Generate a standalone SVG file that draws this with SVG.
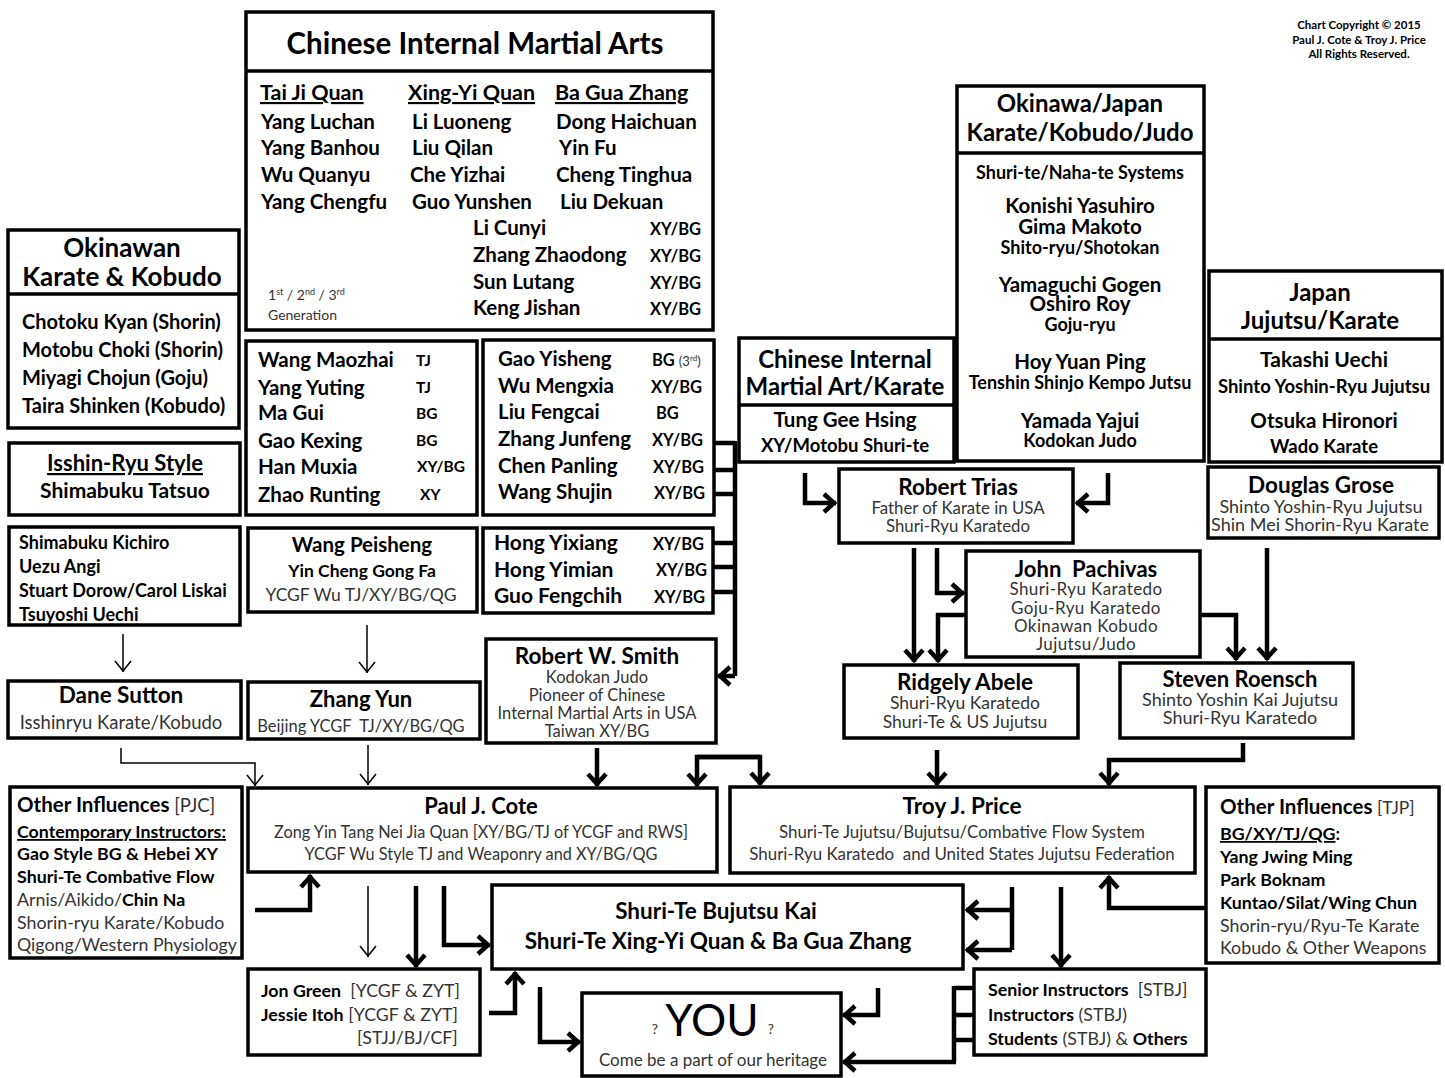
<svg xmlns="http://www.w3.org/2000/svg" width="1445" height="1078" viewBox="0 0 1445 1078">
<defs>
<style>
text{font-family:Lato,'Liberation Sans',sans-serif;fill:#000}
.b{font-weight:700}
.g{fill:#333}
.c{text-anchor:middle}
.u{text-decoration:underline}
.bx{fill:#fff;stroke:#000;stroke-width:3.5}
.dv{stroke:#000;stroke-width:3.5}
.tn{fill:none;stroke:#000;stroke-width:1.5;marker-end:url(#ma)}
.tk{fill:none;stroke:#000;stroke-width:4.5;marker-end:url(#mb)}
.tick{fill:none;stroke:#000;stroke-width:4.5}
</style>
<marker id="ma" markerUnits="userSpaceOnUse" viewBox="-13 -10 15 20" markerWidth="15" markerHeight="20" refX="0" refY="0" orient="auto"><path d="M-11,-8 L-1,0 L-11,8" fill="none" stroke="#000" stroke-width="1.5"/></marker>
<marker id="mb" markerUnits="userSpaceOnUse" viewBox="-15 -12 18 24" markerWidth="18" markerHeight="24" refX="0" refY="0" orient="auto"><path d="M-12,-9 L-2,0 L-12,9" fill="none" stroke="#000" stroke-width="4.5"/></marker>
</defs>
<rect x="0" y="0" width="1445" height="1078" fill="#fff"/>

<g id="copyright">
<text x="1359" y="29" class="c b" font-size="11.5">Chart Copyright © 2015</text>
<text x="1359" y="44" class="c b" font-size="11.5">Paul J. Cote &amp; Troy J. Price</text>
<text x="1359" y="58" class="c b" font-size="11.5">All Rights Reserved.</text>
</g>

<g id="chinese-internal-martial-arts">
<rect class="bx" x="246" y="12" width="467" height="318"/>
<line class="dv" x1="246" y1="71" x2="713" y2="71"/>
<text x="475" y="54" class="c b" font-size="29.5">Chinese Internal Martial Arts</text>
<g font-size="21.5">
<text x="260" y="100" class="b u">Tai Ji Quan</text>
<text x="408" y="100" class="b u">Xing-Yi Quan</text>
<text x="555" y="100" class="b u">Ba Gua Zhang</text>
</g>
<g font-size="20.5">
<text x="261" y="129" class="b">Yang Luchan</text>
<text x="261" y="155" class="b">Yang Banhou</text>
<text x="261" y="182" class="b">Wu Quanyu</text>
<text x="261" y="209" class="b">Yang Chengfu</text>
<text x="412" y="129" class="b">Li Luoneng</text>
<text x="412" y="155" class="b">Liu Qilan</text>
<text x="410" y="182" class="b">Che Yizhai</text>
<text x="412" y="209" class="b">Guo Yunshen</text>
<text x="556" y="129" class="b">Dong Haichuan</text>
<text x="559" y="155" class="b">Yin Fu</text>
<text x="556" y="182" class="b">Cheng Tinghua</text>
<text x="560" y="209" class="b">Liu Dekuan</text>
<text x="473" y="235" class="b">Li Cunyi</text>
<text x="473" y="262" class="b">Zhang Zhaodong</text>
<text x="473" y="289" class="b">Sun Lutang</text>
<text x="473" y="315" class="b">Keng Jishan</text>
</g>
<g font-size="16.5">
<text x="650" y="235" class="b">XY/BG</text>
<text x="650" y="262" class="b">XY/BG</text>
<text x="650" y="289" class="b">XY/BG</text>
<text x="650" y="315" class="b">XY/BG</text>
</g>
<text x="268" y="300" font-size="14" class="g">1<tspan font-size="9" dy="-5">st</tspan><tspan dy="5"> / 2</tspan><tspan font-size="9" dy="-5">nd</tspan><tspan dy="5"> / 3</tspan><tspan font-size="9" dy="-5">rd</tspan></text>
<text x="268" y="320" font-size="14" class="g">Generation</text>
</g>

<g id="okinawan-karate-kobudo">
<rect class="bx" x="8" y="230" width="231" height="198"/>
<line class="dv" x1="8" y1="294" x2="239" y2="294"/>
<text x="122" y="257" class="c b" font-size="26">Okinawan</text>
<text x="122" y="286" class="c b" font-size="26">Karate &amp; Kobudo</text>
<text x="22" y="329" class="b" font-size="20">Chotoku Kyan (Shorin)</text>
<text x="22" y="357" class="b" font-size="20">Motobu Choki (Shorin)</text>
<text x="22" y="385" class="b" font-size="20">Miyagi Chojun (Goju)</text>
<text x="22" y="413" class="b" font-size="20">Taira Shinken (Kobudo)</text>
</g>

<g id="isshin-ryu">
<rect class="bx" x="9" y="443" width="231" height="72"/>
<text x="125" y="471" class="c b u" font-size="22">Isshin-Ryu Style</text>
<text x="125" y="498" class="c b" font-size="21">Shimabuku Tatsuo</text>
</g>

<g id="shimabuku-kichiro">
<rect class="bx" x="9" y="527" width="231" height="98"/>
<text x="19" y="549" class="b" font-size="18">Shimabuku Kichiro</text>
<text x="19" y="573" class="b" font-size="18">Uezu Angi</text>
<text x="19" y="597" class="b" font-size="18">Stuart Dorow/Carol Liskai</text>
<text x="19" y="621" class="b" font-size="18">Tsuyoshi Uechi</text>
</g>

<g id="wang-maozhai">
<rect class="bx" x="246" y="341" width="231" height="174"/>
<g font-size="20.5">
<text x="258" y="367" class="b">Wang Maozhai</text>
<text x="258" y="395" class="b">Yang Yuting</text>
<text x="258" y="420" class="b">Ma Gui</text>
<text x="258" y="448" class="b">Gao Kexing</text>
<text x="258" y="474" class="b">Han Muxia</text>
<text x="258" y="502" class="b">Zhao Runting</text>
</g>
<g font-size="15.5">
<text x="416" y="366" class="b">TJ</text>
<text x="416" y="393" class="b">TJ</text>
<text x="416" y="419" class="b">BG</text>
<text x="416" y="446" class="b">BG</text>
<text x="417" y="472" class="b">XY/BG</text>
<text x="420" y="500" class="b">XY</text>
</g>
</g>

<g id="wang-peisheng">
<rect class="bx" x="248" y="528" width="229" height="84"/>
<text x="362" y="552" class="c b" font-size="20.5">Wang Peisheng</text>
<text x="362" y="577" class="c b" font-size="17.5">Yin Cheng Gong Fa</text>
<text x="361" y="601" class="c g" font-size="17.5">YCGF Wu TJ/XY/BG/QG</text>
</g>

<g id="gao-yisheng">
<rect class="bx" x="483" y="340" width="231" height="175"/>
<g font-size="20.5">
<text x="498" y="366" class="b">Gao Yisheng</text>
<text x="498" y="393" class="b">Wu Mengxia</text>
<text x="498" y="419" class="b">Liu Fengcai</text>
<text x="498" y="446" class="b">Zhang Junfeng</text>
<text x="498" y="473" class="b">Chen Panling</text>
<text x="498" y="499" class="b">Wang Shujin</text>
</g>
<g font-size="16.5">
<text x="652" y="366" class="b">BG <tspan font-weight="400" class="g" font-size="13">(3<tspan font-size="8" dy="-5">rd</tspan><tspan dy="5">)</tspan></tspan></text>
<text x="651" y="393" class="b">XY/BG</text>
<text x="656" y="419" class="b">BG</text>
<text x="652" y="446" class="b">XY/BG</text>
<text x="653" y="473" class="b">XY/BG</text>
<text x="654" y="499" class="b">XY/BG</text>
</g>
</g>

<g id="hong-yixiang">
<rect class="bx" x="483" y="528" width="230" height="85"/>
<g font-size="21">
<text x="494" y="550" class="b">Hong Yixiang</text>
<text x="494" y="577" class="b">Hong Yimian</text>
<text x="494" y="603" class="b">Guo Fengchih</text>
</g>
<g font-size="16.5">
<text x="653" y="550" class="b">XY/BG</text>
<text x="656" y="576" class="b">XY/BG</text>
<text x="654" y="603" class="b">XY/BG</text>
</g>
</g>

<g id="robert-w-smith">
<rect class="bx" x="486" y="639" width="230" height="104"/>
<text x="597" y="664" class="c b" font-size="22.5">Robert W. Smith</text>
<text x="597" y="683" class="c g" font-size="16.5">Kodokan Judo</text>
<text x="597" y="701" class="c g" font-size="16.5">Pioneer of Chinese</text>
<text x="597" y="719" class="c g" font-size="16.5">Internal Martial Arts in USA</text>
<text x="597" y="737" class="c g" font-size="16.5">Taiwan XY/BG</text>
</g>

<g id="chinese-ima-karate">
<rect class="bx" x="739" y="338" width="215" height="124"/>
<line class="dv" x1="739" y1="405" x2="954" y2="405"/>
<text x="845" y="368" class="c b" font-size="24">Chinese Internal</text>
<text x="845" y="395" class="c b" font-size="24">Martial Art/Karate</text>
<text x="845" y="427" class="c b" font-size="20.5">Tung Gee Hsing</text>
<text x="845" y="452" class="c b" font-size="18.5">XY/Motobu Shuri-te</text>
</g>

<g id="okinawa-japan">
<rect class="bx" x="957" y="86" width="247" height="375"/>
<line class="dv" x1="957" y1="153" x2="1204" y2="153"/>
<text x="1080" y="112" class="c b" font-size="24">Okinawa/Japan</text>
<text x="1080" y="141" class="c b" font-size="24">Karate/Kobudo/Judo</text>
<text x="1080" y="179" class="c b" font-size="18">Shuri-te/Naha-te Systems</text>
<text x="1080" y="213" class="c b" font-size="20.5">Konishi Yasuhiro</text>
<text x="1080" y="234" class="c b" font-size="20.5">Gima Makoto</text>
<text x="1080" y="254" class="c b" font-size="18">Shito-ryu/Shotokan</text>
<text x="1080" y="292" class="c b" font-size="20.5">Yamaguchi Gogen</text>
<text x="1080" y="311" class="c b" font-size="20.5">Oshiro Roy</text>
<text x="1080" y="331" class="c b" font-size="18">Goju-ryu</text>
<text x="1080" y="369" class="c b" font-size="20.5">Hoy Yuan Ping</text>
<text x="1080" y="389" class="c b" font-size="18">Tenshin Shinjo Kempo Jutsu</text>
<text x="1080" y="428" class="c b" font-size="20.5">Yamada Yajui</text>
<text x="1080" y="447" class="c b" font-size="18">Kodokan Judo</text>
</g>

<g id="japan-jujutsu-karate">
<rect class="bx" x="1209" y="271" width="233" height="191"/>
<line class="dv" x1="1209" y1="339" x2="1442" y2="339"/>
<text x="1320" y="301" class="c b" font-size="24">Japan</text>
<text x="1320" y="329" class="c b" font-size="24">Jujutsu/Karate</text>
<text x="1324" y="367" class="c b" font-size="21">Takashi Uechi</text>
<text x="1324" y="393" class="c b" font-size="18.5">Shinto Yoshin-Ryu Jujutsu</text>
<text x="1324" y="428" class="c b" font-size="20.5">Otsuka Hironori</text>
<text x="1324" y="453" class="c b" font-size="18.5">Wado Karate</text>
</g>

<g id="douglas-grose">
<rect class="bx" x="1208" y="467" width="231" height="71"/>
<text x="1321" y="493" class="c b" font-size="22.5">Douglas Grose</text>
<text x="1321" y="513" class="c g" font-size="18">Shinto Yoshin-Ryu Jujutsu</text>
<text x="1320" y="531" class="c g" font-size="18">Shin Mei Shorin-Ryu Karate</text>
</g>

<g id="robert-trias">
<rect class="bx" x="839" y="469" width="234" height="74"/>
<text x="958" y="495" class="c b" font-size="22.5">Robert Trias</text>
<text x="958" y="514" class="c g" font-size="16.8">Father of Karate in USA</text>
<text x="958" y="532" class="c g" font-size="16.8">Shuri-Ryu Karatedo</text>
</g>

<g id="john-pachivas">
<rect class="bx" x="966" y="551" width="234" height="106"/>
<text x="1086" y="577" class="c b" font-size="22">John&#160; Pachivas</text>
<text x="1086" y="595" class="c g" font-size="17" letter-spacing="0.4">Shuri-Ryu Karatedo</text>
<text x="1086" y="613.5" class="c g" font-size="17" letter-spacing="0.4">Goju-Ryu Karatedo</text>
<text x="1086" y="632" class="c g" font-size="17" letter-spacing="0.4">Okinawan Kobudo</text>
<text x="1086" y="650" class="c g" font-size="17" letter-spacing="0.4">Jujutsu/Judo</text>
</g>

<g id="ridgely-abele">
<rect class="bx" x="844" y="665" width="234" height="73"/>
<text x="965" y="690" class="c b" font-size="22.5">Ridgely Abele</text>
<text x="965" y="709" class="c g" font-size="17.5">Shuri-Ryu Karatedo</text>
<text x="965" y="728" class="c g" font-size="17.5">Shuri-Te &amp; US Jujutsu</text>
</g>

<g id="steven-roensch">
<rect class="bx" x="1120" y="663" width="233" height="75"/>
<text x="1240" y="687" class="c b" font-size="22">Steven Roensch</text>
<text x="1240" y="706" class="c g" font-size="18">Shinto Yoshin Kai Jujutsu</text>
<text x="1240" y="724" class="c g" font-size="18">Shuri-Ryu Karatedo</text>
</g>

<g id="dane-sutton">
<rect class="bx" x="8" y="681" width="233" height="57"/>
<text x="121" y="703" class="c b" font-size="22.5">Dane Sutton</text>
<text x="121" y="729" class="c g" font-size="18.5">Isshinryu Karate/Kobudo</text>
</g>

<g id="zhang-yun">
<rect class="bx" x="248" y="682" width="232" height="57"/>
<text x="361" y="707" class="c b" font-size="22">Zhang Yun</text>
<text x="361" y="732" class="c g" font-size="16.5">Beijing YCGF&#160; TJ/XY/BG/QG</text>
</g>

<g id="other-influences-pjc">
<rect class="bx" x="10" y="787" width="232" height="171"/>
<text x="17" y="812" font-size="20.5"><tspan class="b">Other Influences</tspan><tspan class="g" font-size="18.5"> [PJC]</tspan></text>
<text x="17" y="838" class="b u" font-size="17.8">Contemporary Instructors<tspan text-decoration="none">:</tspan></text>
<text x="17" y="860" class="b" font-size="17.8">Gao Style BG &amp; Hebei XY</text>
<text x="17" y="883" class="b" font-size="17.8">Shuri-Te Combative Flow</text>
<text x="17" y="906" font-size="17.8"><tspan class="g">Arnis/Aikido/</tspan><tspan class="b">Chin Na</tspan></text>
<text x="17" y="929" class="g" font-size="17.8">Shorin-ryu Karate/Kobudo</text>
<text x="17" y="951" class="g" font-size="17.8">Qigong/Western Physiology</text>
</g>

<g id="paul-j-cote">
<rect class="bx" x="248" y="788" width="469" height="84"/>
<text x="481" y="814" class="c b" font-size="22">Paul J. Cote</text>
<text x="481" y="838" class="c g" font-size="16.3">Zong Yin Tang Nei Jia Quan [XY/BG/TJ of YCGF and RWS]</text>
<text x="481" y="860" class="c g" font-size="16.3">YCGF Wu Style TJ and Weaponry and XY/BG/QG</text>
</g>

<g id="troy-j-price">
<rect class="bx" x="730" y="787" width="465" height="86"/>
<text x="962" y="814" class="c b" font-size="22.5">Troy J. Price</text>
<text x="962" y="838" class="c g" font-size="16.9">Shuri-Te Jujutsu/Bujutsu/Combative Flow System</text>
<text x="962" y="860" class="c g" font-size="16.9">Shuri-Ryu Karatedo&#160; and United States Jujutsu Federation</text>
</g>

<g id="other-influences-tjp">
<rect class="bx" x="1206" y="787" width="233" height="176"/>
<text x="1220" y="814" font-size="20.5"><tspan class="b">Other Influences</tspan><tspan class="g" font-size="17.5"> [TJP]</tspan></text>
<text x="1220" y="840" class="b" font-size="17.8"><tspan class="u">BG/XY/TJ/QG</tspan>:</text>
<text x="1220" y="863" class="b" font-size="17.8">Yang Jwing Ming</text>
<text x="1220" y="886" class="b" font-size="17.8">Park Boknam</text>
<text x="1220" y="909" class="b" font-size="17.8">Kuntao/Silat/Wing Chun</text>
<text x="1220" y="932" class="g" font-size="17.8">Shorin-ryu/Ryu-Te Karate</text>
<text x="1220" y="954" class="g" font-size="17.8">Kobudo &amp; Other Weapons</text>
</g>

<g id="shuri-te-bujutsu-kai">
<rect class="bx" x="492" y="885" width="471" height="84"/>
<text x="716" y="919" class="c b" font-size="22.5">Shuri-Te Bujutsu Kai</text>
<text x="718" y="949" class="c b" font-size="22.5">Shuri-Te Xing-Yi Quan &amp; Ba Gua Zhang</text>
</g>

<g id="jon-green">
<rect class="bx" x="248" y="969" width="232" height="86"/>
<text x="261" y="997" font-size="17.8"><tspan class="b">Jon Green</tspan><tspan class="g">&#160; [YCGF &amp; ZYT]</tspan></text>
<text x="261" y="1021" font-size="17.8"><tspan class="b">Jessie Itoh</tspan><tspan class="g"> [YCGF &amp; ZYT]</tspan></text>
<text x="357" y="1044" class="g" font-size="17.8">[STJJ/BJ/CF]</text>
</g>

<g id="you">
<rect class="bx" x="582" y="993" width="259" height="83"/>
<text x="655" y="1034" class="c g" font-size="14">?</text>
<text x="712" y="1036" class="c" font-size="44">YOU</text>
<text x="771" y="1034" class="c g" font-size="14">?</text>
<text x="713" y="1066" class="c g" font-size="17">Come be a part of our heritage</text>
</g>

<g id="senior-instructors">
<rect class="bx" x="974" y="969" width="232" height="86"/>
<text x="988" y="996" font-size="17.8"><tspan class="b">Senior Instructors</tspan><tspan class="g">&#160; [STBJ]</tspan></text>
<text x="988" y="1021" font-size="17.8"><tspan class="b">Instructors</tspan><tspan class="g"> (STBJ)</tspan></text>
<text x="988" y="1045" font-size="17.8"><tspan class="b">Students</tspan><tspan class="g"> (STBJ) &amp; </tspan><tspan class="b">Others</tspan></text>
</g>

<g id="connectors">
<path class="tick" d="M714,443 H735 M714,470 H735 M714,494 H735 M714,543 H735 M714,567 H735 M714,592 H735 M735,441 V676"/>
<path class="tk" d="M735,676 H718"/>
<path class="tn" d="M123,634 V672"/>
<path class="tn" d="M367,625 V673"/>
<path class="tn" d="M121,748 V763 H255 V786"/>
<path class="tn" d="M368,745 V785"/>
<path class="tn" d="M368,886 V957"/>
<path class="tk" d="M805,473 V503 H836"/>
<path class="tk" d="M1108,473 V503 H1076"/>
<path class="tk" d="M914,548 V662"/>
<path class="tk" d="M937,548 V593 H964"/>
<path class="tk" d="M966,615 H938 V662"/>
<path class="tk" d="M1200,615 H1236 V660"/>
<path class="tk" d="M1267,548 V660"/>
<path class="tk" d="M597,748 V786"/>
<path class="tk" d="M760,757 H697 V786"/>
<path class="tk" d="M697,757 H760 V785"/>
<path class="tk" d="M937,750 V785"/>
<path class="tk" d="M1243,743 V760 H1109 V785"/>
<path class="tk" d="M255,910 H310 V875"/>
<path class="tk" d="M1206,908 H1109 V876"/>
<path class="tk" d="M416,886 V967"/>
<path class="tk" d="M444,886 V945 H490"/>
<path class="tick" d="M1012,887 V950"/>
<path class="tk" d="M1012,910 H966"/>
<path class="tk" d="M1012,950 H966"/>
<path class="tk" d="M1061,887 V967"/>
<path class="tk" d="M489,1013 H515 V972"/>
<path class="tk" d="M540,987 V1042 H580"/>
<path class="tk" d="M878,988 V1015 H843"/>
<path class="tick" d="M974,988 H954 M974,1015 H954 M974,1040 H954 M954,986 V1062"/>
<path class="tk" d="M956,1062 H843"/>
</g>
</svg>
